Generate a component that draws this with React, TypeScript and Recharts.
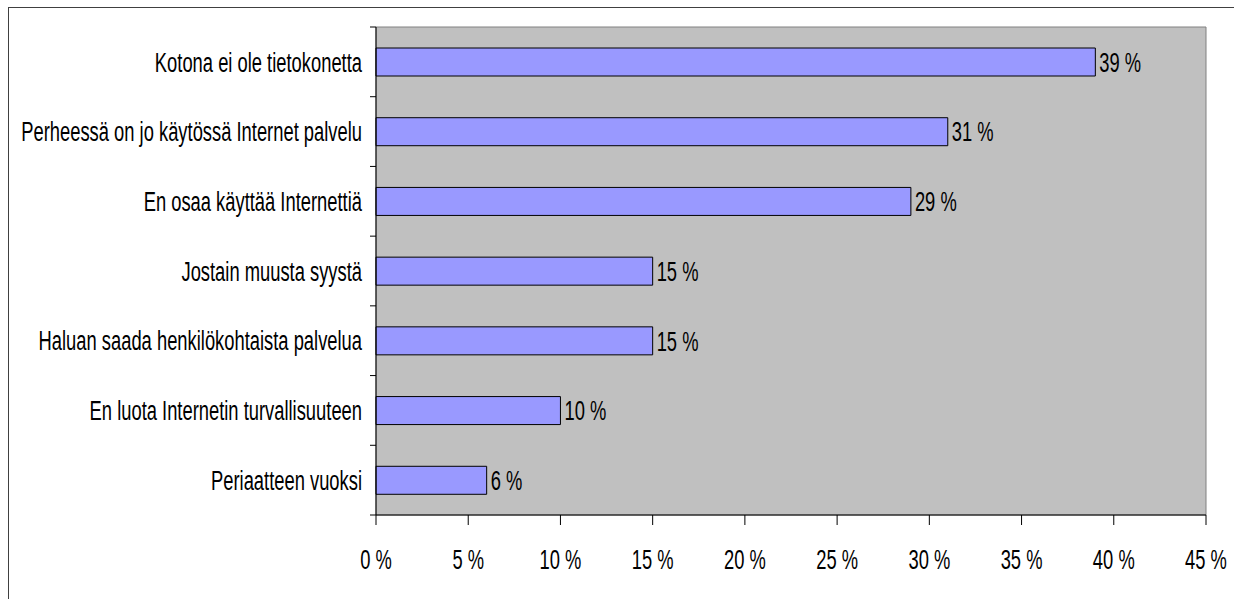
import React from 'react';
import { BarChart, Bar, XAxis, YAxis, ReferenceArea, LabelList } from 'recharts';

const categories = [
  'Kotona ei ole tietokonetta',
  'Perheessä on jo käytössä Internet palvelu',
  'En osaa käyttää Internettiä',
  'Jostain muusta syystä',
  'Haluan saada henkilökohtaista palvelua',
  'En luota Internetin turvallisuuteen',
  'Periaatteen vuoksi',
];
const shares = [39, 31, 29, 15, 15, 10, 6];
const xTicks = [0, 5, 10, 15, 20, 25, 30, 35, 40, 45];

const data = categories.map((name, i) => ({ name, value: shares[i] }));

// Arial Narrow look: Liberation Sans squeezed horizontally
const FONT = '"Liberation Sans", Arial, sans-serif';
const FS = 27;
const SQX = 0.68;
const pct = (v: any) => `${v} %`;

const Y_TICK = 6;
const Y_GAP = 8;

const NarrowText = ({ x, y, anchor, dy, children }: any) => (
  <text
    transform={`translate(${x},${y}) scale(${SQX},1)`}
    textAnchor={anchor}
    dy={dy}
    fill="#000"
    fontSize={FS}
    fontFamily={FONT}
  >
    {children}
  </text>
);

const CategoryTick = (props: any) => {
  const { x, y, payload, index, visibleTicksCount } = props;
  const half = payload.offset || 0;
  const axisX = x + Y_TICK + Y_GAP;
  const last = index === visibleTicksCount - 1;
  return (
    <g>
      <line x1={axisX - Y_TICK} x2={axisX} y1={y - half} y2={y - half} stroke="#000" />
      {last && <line x1={axisX - Y_TICK} x2={axisX} y1={y + half} y2={y + half} stroke="#000" />}
      <NarrowText x={x} y={y} anchor="end" dy="0.36em">
        {payload.value}
      </NarrowText>
    </g>
  );
};

const ValueTick = (props: any) => {
  const { x, y, payload } = props;
  return (
    <NarrowText x={x} y={y} anchor="middle" dy="0.74em">
      {pct(payload.value)}
    </NarrowText>
  );
};

const BarValue = (props: any) => {
  const { x, y, width, height, value } = props;
  return (
    <NarrowText x={x + width + 4} y={y + height / 2} anchor="start" dy="0.36em">
      {pct(value)}
    </NarrowText>
  );
};

const App: React.FC = () => {
  return (
    <div
      style={{
        position: 'absolute',
        left: 8,
        top: 7,
        width: 1240,
        height: 600,
        border: '1px solid #404040',
        boxSizing: 'border-box',
        background: '#fff',
      }}
    >
      <BarChart
        width={1224}
        height={590}
        data={data}
        layout="vertical"
        margin={{ top: 19, right: 27, left: 0, bottom: 0 }}
        barSize={28}
      >
        <ReferenceArea
          x1={0}
          x2={45}
          fill="#C0C0C0"
          fillOpacity={1}
          stroke="#808080"
          strokeWidth={1}
          ifOverflow="visible"
        />
        <XAxis
          type="number"
          domain={[0, 45]}
          ticks={xTicks}
          height={83}
          stroke="#000"
          tickSize={10}
          tickMargin={24}
          interval={0}
          tick={<ValueTick />}
        />
        <YAxis
          type="category"
          dataKey="name"
          width={367}
          stroke="#000"
          tickLine={false}
          tickSize={Y_TICK}
          tickMargin={Y_GAP}
          interval={0}
          tick={<CategoryTick />}
        />
        <Bar dataKey="value" fill="#9999FF" stroke="#000" strokeWidth={1} isAnimationActive={false}>
          <LabelList dataKey="value" content={<BarValue />} />
        </Bar>
      </BarChart>
    </div>
  );
};

export default App;
